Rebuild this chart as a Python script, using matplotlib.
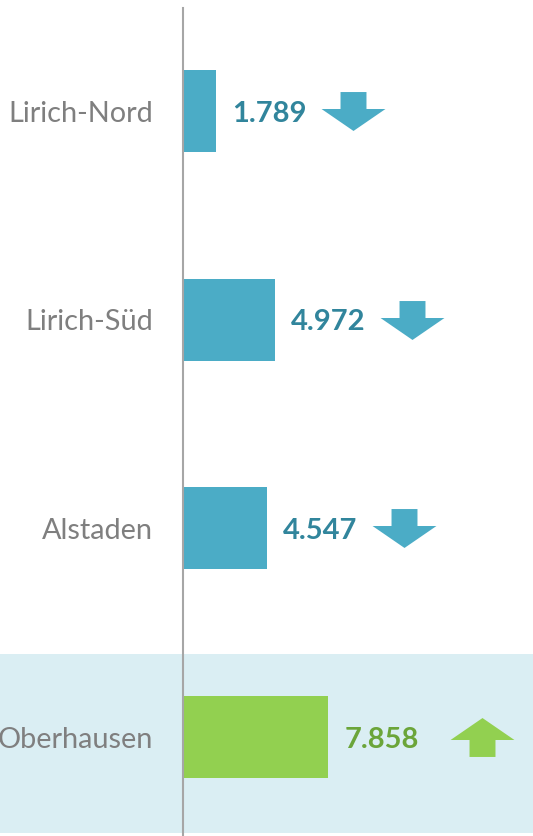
import matplotlib.pyplot as plt
from matplotlib.path import Path
from matplotlib.transforms import ScaledTranslation

# data
districts = ["Lirich-Nord", "Lirich-Süd", "Alstaden", "Oberhausen"]
values = [1789, 4972, 4547, 7858]
trend = ["down", "down", "down", "up"]

BLUE = "#4BACC6"
GREEN = "#92D050"
BLUE_TXT = "#31859C"
GREEN_TXT = "#6BA539"
BAND = "#DAEEF3"
GREY = "#7F7F7F"

plt.rcParams["font.family"] = ["Lato", "DejaVu Sans"]


def arrow_path(direction):
    # arrow shape in pixels, centred on (0, 0)
    s = 1 if direction == "down" else -1
    verts = [(-13, 19.5 * s), (13, 19.5 * s), (13, 2.5 * s), (32, 2.5 * s),
             (0, -19.5 * s), (-32, 2.5 * s), (-13, 2.5 * s), (-13, 19.5 * s)]
    codes = [Path.MOVETO] + [Path.LINETO] * 6 + [Path.CLOSEPOLY]
    return Path(verts, codes)


fig = plt.figure(figsize=(5.33, 8.36), dpi=100)
ax = fig.add_axes([0, 0, 1, 1])

px_per_unit = 0.01848
ax.set_xlim(-183 / px_per_unit, 350 / px_per_unit)
ax.set_ylim(3.474, -0.532)
ax.axis("off")

ypos = list(range(len(districts)))

# highlighted total row
ax.axhspan(ypos[-1] - 0.398, ypos[-1] + 0.46, color=BAND, zorder=0, lw=0)

colors = [GREEN if t == "up" else BLUE for t in trend]
ax.barh(ypos, values, height=0.393, color=colors, zorder=2)

ax.axvline(0, ymin=0, ymax=1 - 8 / 836, color="#A6A6A6", lw=1.5, zorder=3)

for y, name, v, t in zip(ypos, districts, values, trend):
    ax.annotate(name, xy=(0, y), xytext=(-21.6, 0), textcoords="offset points",
                ha="right", va="center_baseline", fontsize=20.8, color=GREY)
    txt_color = GREEN_TXT if t == "up" else BLUE_TXT
    ax.annotate(f"{v:,}".replace(",", "."), xy=(v, y), xytext=(11.5, 0),
                textcoords="offset points", ha="left", va="center_baseline",
                fontsize=21, fontweight="bold", color=txt_color)
    dx = 154 if t == "up" else 137
    shift = ax.transData + ScaledTranslation(dx / 100, 0, fig.dpi_scale_trans)
    ax.plot([v], [y], marker=arrow_path(t), markersize=46, mew=0,
            color=GREEN if t == "up" else BLUE, transform=shift, zorder=4)

fig.savefig("out.png", dpi=100)
